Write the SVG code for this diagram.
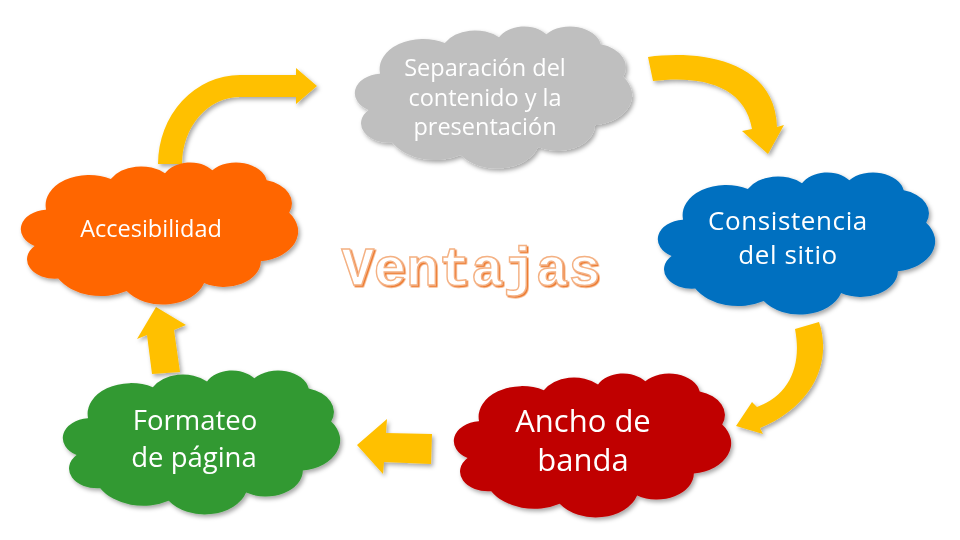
<svg xmlns="http://www.w3.org/2000/svg" xmlns:xlink="http://www.w3.org/1999/xlink" width="960" height="540" viewBox="0 0 960 540">
  <defs>
    <path id="cloud" d="M 3900 14370 A 6753 9190 0 0 1 14006.5 5203.2 A 5333 7267 0 0 1 22460.6 3436.3 A 4365 5945 0 0 1 29838.5 2486.1 A 4857 6595 0 0 1 38323.9 5580.8 A 5333 7273 0 0 1 41824 15464.8 A 6775 9220 0 0 1 37409.1 30206.9 A 5785 7867 0 0 1 28560.9 36817.2 A 6752 9215 0 0 1 16486.2 39270 A 7720 10543 0 0 1 5809.1 35475.4 A 4360 5918 0 0 1 2118.7 25552.2 A 4345 5945 0 0 1 3869.2 14508.9 Z"/>
    <filter id="shadow" x="-10%" y="-10%" width="130%" height="130%">
      <feDropShadow dx="2" dy="2.5" stdDeviation="2" flood-color="#000" flood-opacity="0.35"/>
    </filter>
    <filter id="titleShadow" x="-5%" y="-10%" width="115%" height="130%">
      <feDropShadow dx="1.5" dy="1.5" stdDeviation="0.4" flood-color="#ED7D31" flood-opacity="1"/>
    </filter>
  </defs>
  <style>
    .arrow { fill: #FFC000; filter: url(#shadow); }
    .cloud-label { font-family: "Open Sans", "Liberation Sans", sans-serif; fill: #FFFFFF; text-anchor: middle; }
    .title { font-family: "Liberation Mono", "DejaVu Sans Mono", monospace; font-weight: bold; font-size: 54px; fill: #FFFFFF; stroke: #F4B183; stroke-width: 1.4; text-anchor: middle; filter: url(#titleShadow); }
  </style>
  <rect width="960" height="540" fill="#FFFFFF"/>

  <g id="connectors">
    <path class="arrow" d="M 158 164 A 82 89 0 0 1 240 75 L 296 75 L 296 68 L 317 86 L 296 104 L 296 97 L 240 97 A 58 67 0 0 0 182 164 Z"/>
    <path class="arrow" d="M 648 57 C 700 50 775 60 777 127 L 784 125 L 768 154 L 742 131 L 752 129 C 745 85 700 75 653 81 Z"/>
    <path class="arrow" d="M 795 329 L 819 322 C 832 360 815 405 760 428 L 763 434 L 736 426 L 752 402 L 757 407 C 790 395 802 365 795 329 Z"/>
    <path class="arrow" d="M 432 434 L 386 433 L 387 419 L 357 445 L 383 474 L 384 462 L 431 464 Z"/>
    <path class="arrow" d="M 152 374 L 147 335 L 137 339 L 156 307 L 186 325 L 174 330 L 180 372 Z"/>
  </g>

  <g id="node-separacion" filter="url(#shadow)">
    <use xlink:href="#cloud" href="#cloud" fill="#BFBFBF" transform="translate(355 26) scale(0.006412 0.003287)"/>
    <text class="cloud-label" font-size="23.5" x="485" y="76">Separación del</text>
    <text class="cloud-label" font-size="23.5" x="485" y="106">contenido y la</text>
    <text class="cloud-label" font-size="23.5" x="485" y="135">presentación</text>
  </g>

  <g id="node-consistencia" filter="url(#shadow)">
    <use xlink:href="#cloud" href="#cloud" fill="#0070C0" transform="translate(658 172) scale(0.006412 0.003287)"/>
    <text class="cloud-label" font-size="26" letter-spacing="0.6" x="788" y="230">Consistencia</text>
    <text class="cloud-label" font-size="26" letter-spacing="0.6" x="788" y="264">del sitio</text>
  </g>

  <g id="node-ancho" filter="url(#shadow)">
    <use xlink:href="#cloud" href="#cloud" fill="#C00000" transform="translate(454 373) scale(0.006412 0.00333)"/>
    <text class="cloud-label" font-size="31" x="583" y="432">Ancho de</text>
    <text class="cloud-label" font-size="31" x="583" y="471">banda</text>
  </g>

  <g id="node-formateo" filter="url(#shadow)">
    <use xlink:href="#cloud" href="#cloud" fill="#339933" transform="translate(63 370) scale(0.006412 0.00333)"/>
    <text class="cloud-label" font-size="27.5" x="195" y="430">Formateo</text>
    <text class="cloud-label" font-size="27.5" x="194" y="467">de página</text>
  </g>

  <g id="node-accesibilidad" filter="url(#shadow)">
    <use xlink:href="#cloud" href="#cloud" fill="#FF6600" transform="translate(21 162) scale(0.006412 0.003287)"/>
    <text class="cloud-label" font-size="23.5" x="151" y="237">Accesibilidad</text>
  </g>

  <g id="title">
    <text class="title" x="471" y="285">Ventajas</text>
  </g>
</svg>
